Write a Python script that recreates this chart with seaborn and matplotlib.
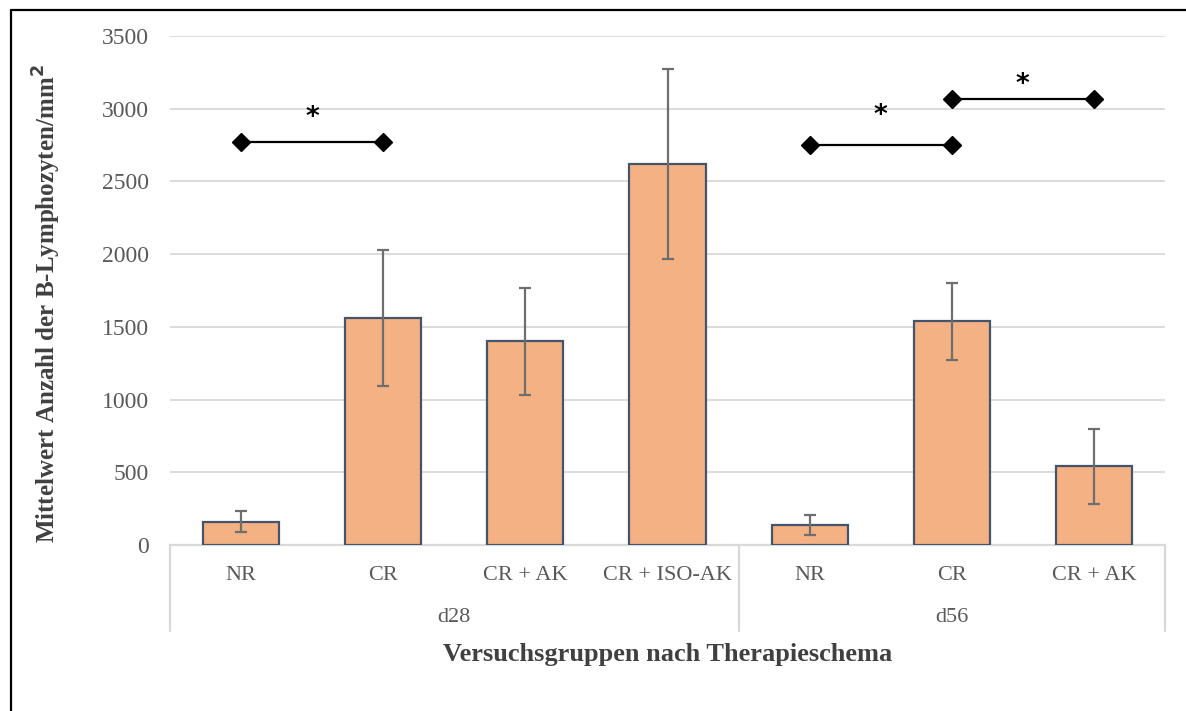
import numpy as np
import pandas as pd
import matplotlib
matplotlib.use("Agg")
import matplotlib.pyplot as plt
import matplotlib.transforms as mtransforms
from matplotlib.lines import Line2D
import seaborn as sns

# Data: mean B-lymphocyte counts per mm² with error (±)
groups = ["d28", "d28", "d28", "d28", "d56", "d56", "d56"]
categories = ["NR", "CR", "CR + AK", "CR + ISO-AK", "NR", "CR", "CR + AK"]
means = [160, 1560, 1400, 2620, 140, 1540, 540]
errors = [72, 470, 370, 655, 68, 265, 258]

# Significance brackets: (start index, end index, line height, star height)
sig_start = [0, 4, 5]
sig_end = [1, 5, 6]
sig_line = [2770, 2750, 3070]
sig_star = [2935, 2950, 3160]

yticks = [0, 500, 1000, 1500, 2000, 2500, 3000, 3500]

sns.set_theme(style="white")
plt.rcParams["font.family"] = ["Liberation Serif", "DejaVu Serif"]

keys = [f"{g} {c}" for g, c in zip(groups, categories)]
df = pd.DataFrame({"key": keys, "mean": means})

fig = plt.figure(figsize=(11.86, 7.11), dpi=100)
ax = fig.add_axes([170 / 1186, 1 - 545 / 711, 995 / 1186, 509 / 711])

sns.barplot(data=df, x="key", y="mean", order=keys, color="#F4B183",
            saturation=1, width=0.535, edgecolor="#44546A", linewidth=1.6,
            errorbar=None, ax=ax, zorder=3)

xpos = np.arange(len(keys))
ax.errorbar(xpos, means, yerr=errors, fmt="none", ecolor="#6E6E6E",
            elinewidth=1.6, capsize=4.5, capthick=1.6, zorder=4)

# Significance markers
for s, e, ly, sy in zip(sig_start, sig_end, sig_line, sig_star):
    ax.plot([s, e], [ly, ly], color="black", lw=1.6, marker="D",
            markersize=9, zorder=5)
    ax.text((s + e) / 2, sy, "*", ha="center", va="center",
            fontsize=19, fontweight="bold", color="black",
            family="DejaVu Sans", zorder=5)

ax.set_xlim(-0.5, len(keys) - 0.5)
ax.set_ylim(0, 3500)
ax.set_yticks(yticks)
ax.set_yticklabels([str(v) for v in yticks], fontsize=17, color="#595959")
ax.tick_params(axis="y", length=0, pad=15)
ax.yaxis.grid(True, color="#D9D9D9", lw=1.3, zorder=0)
ax.xaxis.grid(False)
for side in ["left", "right", "top"]:
    ax.spines[side].set_visible(False)
ax.spines["bottom"].set_color("#D9D9D9")
ax.spines["bottom"].set_linewidth(1.6)
ax.spines["bottom"].set_zorder(2)

ax.set_xticks(xpos)
ax.set_xticklabels([])
ax.tick_params(axis="x", length=0)
ax.set_xlabel("")
ax.set_ylabel("")

# Category table below the axis
trans = mtransforms.blended_transform_factory(ax.transData, fig.transFigure)
def fy(py):
    return 1 - py / 711

for x, c in zip(xpos, categories):
    ax.text(x, fy(576), c, transform=trans, ha="center", va="center",
            fontsize=16, color="#595959")

group_names = ["d28", "d56"]
group_bounds = [(-0.5, 3.5), (3.5, 6.5)]
for name, (a, b) in zip(group_names, group_bounds):
    ax.text((a + b) / 2, fy(618), name, transform=trans, ha="center",
            va="center", fontsize=16, color="#595959")
for xb in [-0.5, 3.5, 6.5]:
    ax.add_line(Line2D([xb, xb], [fy(545), fy(631)], transform=trans,
                       color="#D9D9D9", lw=1.6, clip_on=False))

fig.text((170 + 1165) / 2 / 1186, fy(654), "Versuchsgruppen nach Therapieschema",
         ha="center", va="center", fontsize=19, fontweight="bold",
         color="#404040")
fig.text(47 / 1186, fy(304), "Mittelwert Anzahl der B-Lymphozyten/mm$^{\\mathbf{2}}$",
         ha="center", va="center", rotation=90, fontsize=18,
         fontweight="bold", color="#404040")

# Outer frame (left and top edges)
fig.add_artist(Line2D([10.5 / 1186, 10.5 / 1186], [0, fy(10)],
                      transform=fig.transFigure, color="black", lw=1.6))
fig.add_artist(Line2D([10.5 / 1186, 1], [fy(10), fy(10)],
                      transform=fig.transFigure, color="black", lw=1.6))

fig.savefig("out.png", dpi=100)
